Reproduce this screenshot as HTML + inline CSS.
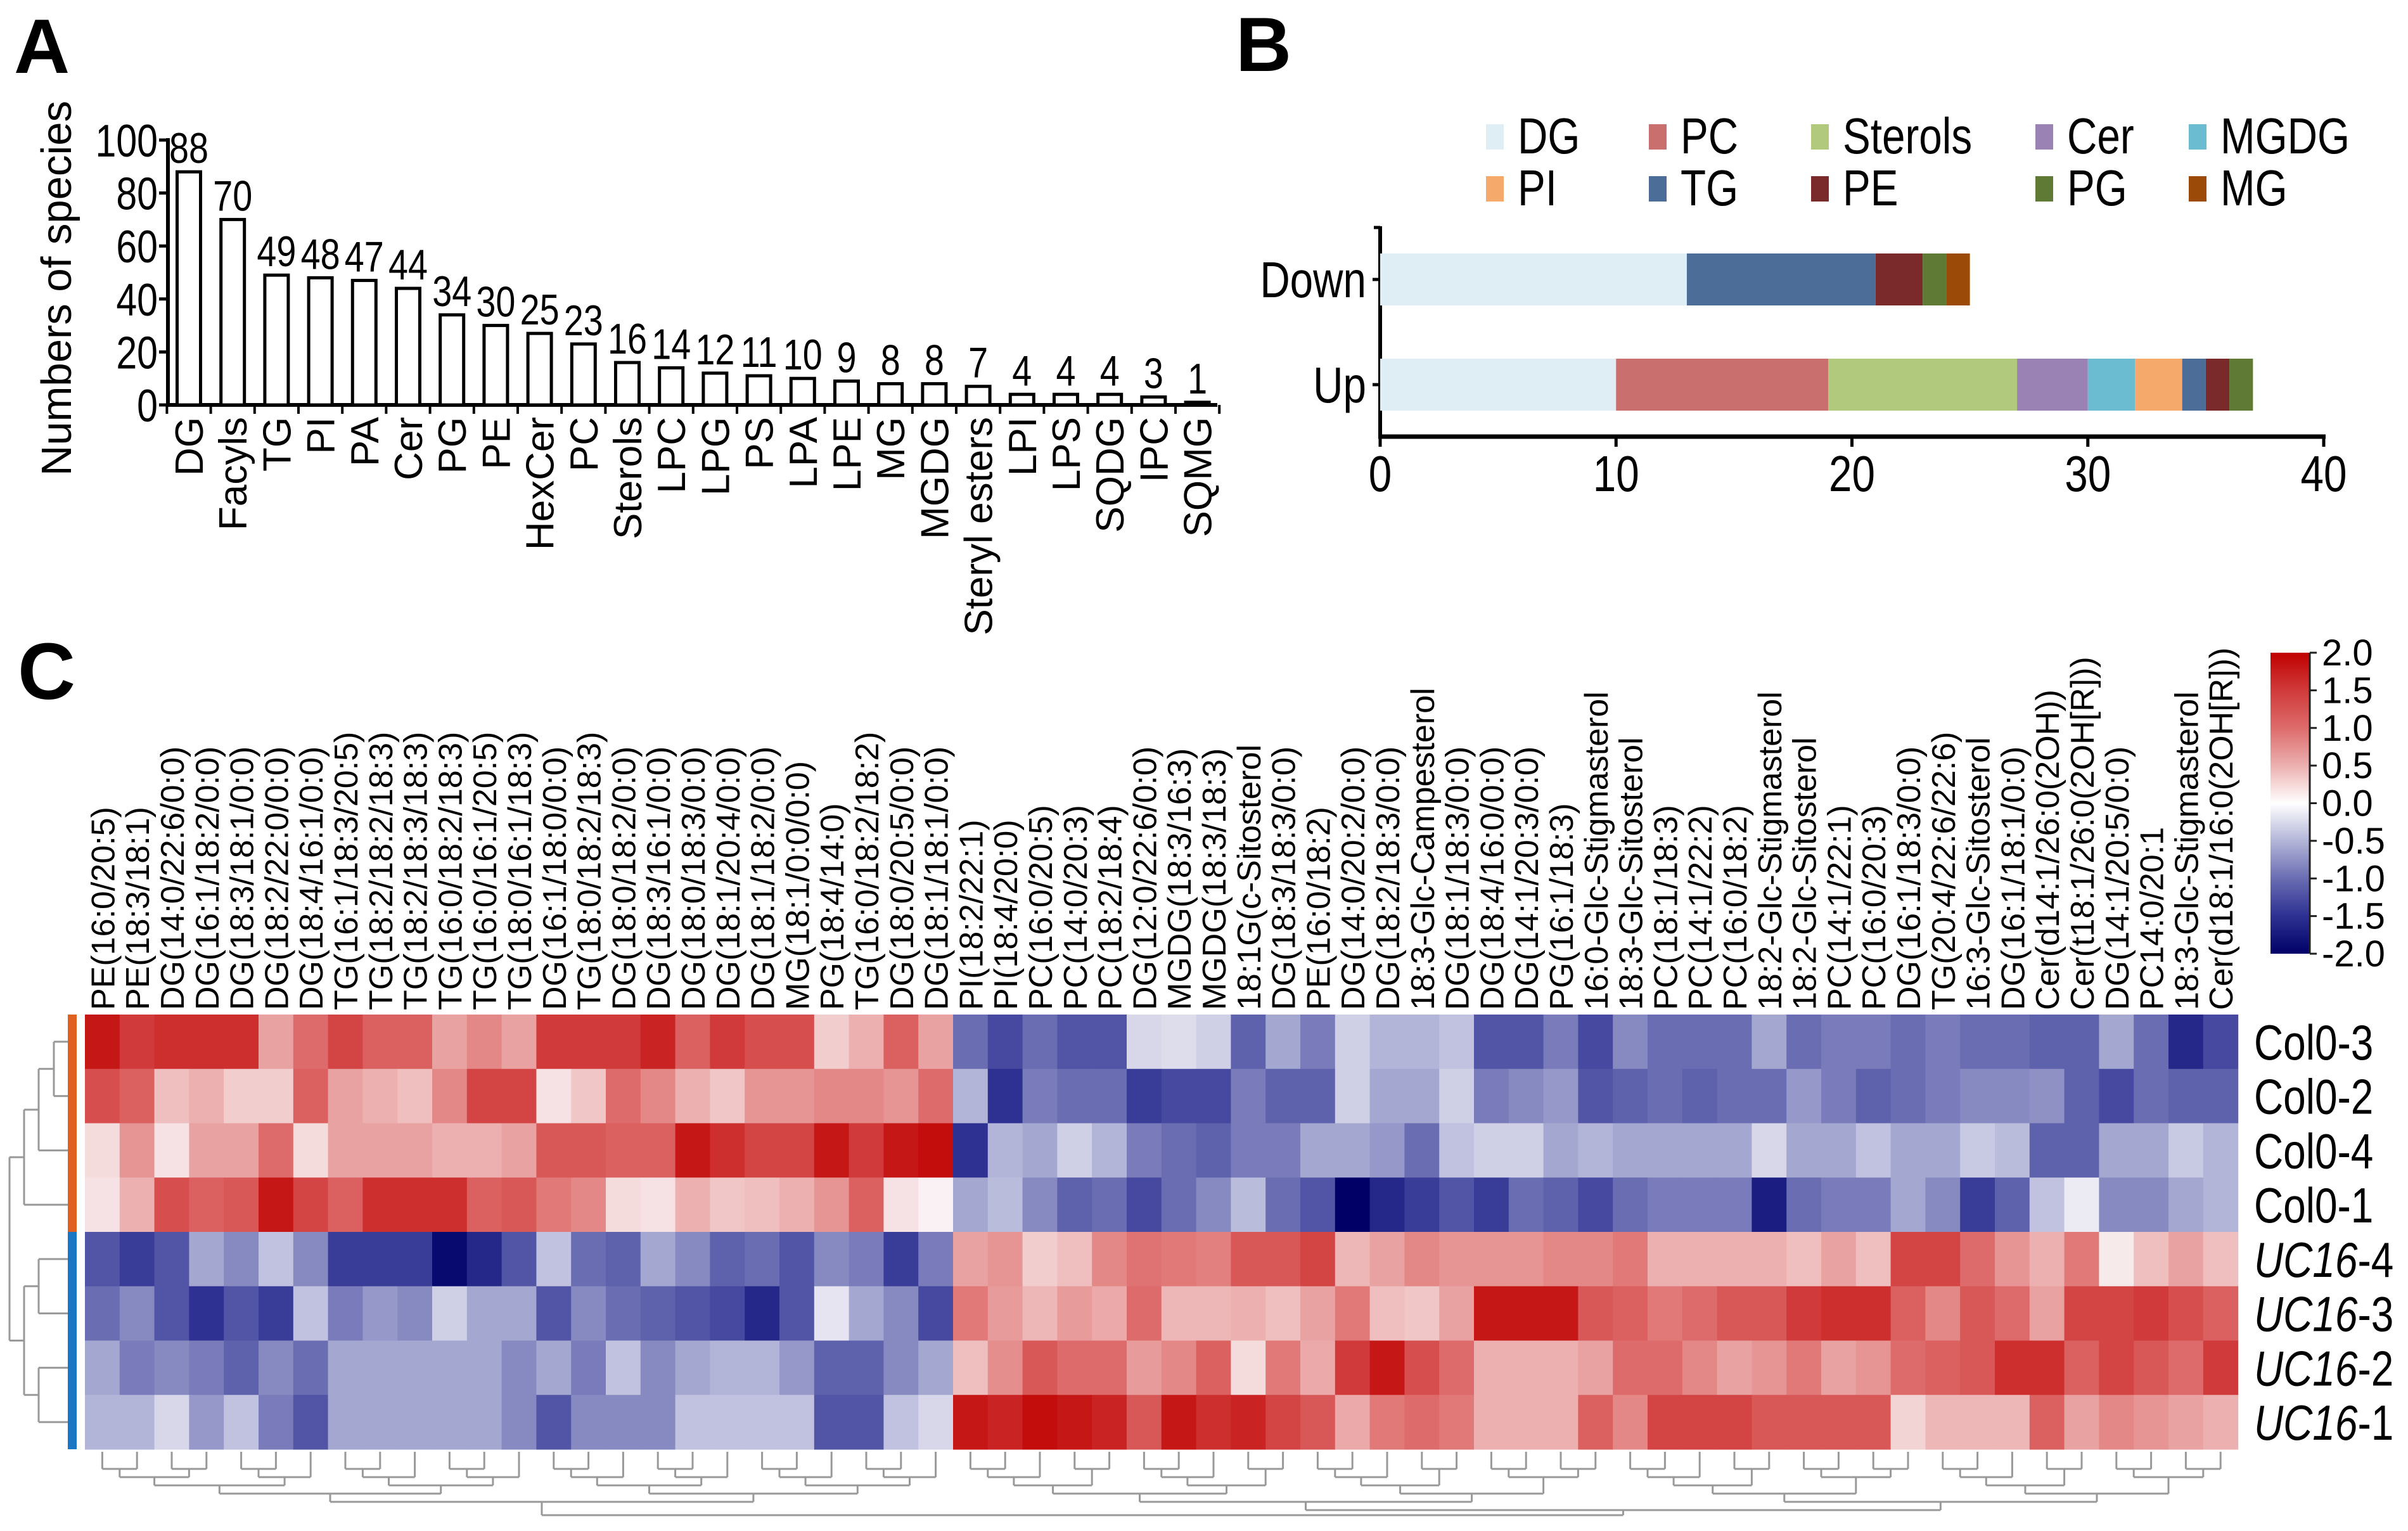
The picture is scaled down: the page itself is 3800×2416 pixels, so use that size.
<!DOCTYPE html>
<html><head><meta charset="utf-8"><style>
html,body{margin:0;padding:0;background:#fff;}
svg{display:block;font-family:"Liberation Sans",Arial,sans-serif;}
</style></head><body>
<svg id="fig" width="3800" height="2416" viewBox="0 0 3800 2416" xmlns="http://www.w3.org/2000/svg">
<defs>
<linearGradient id="cbgrad" x1="0" y1="1" x2="0" y2="0">
<stop offset="0" stop-color="#000066"/><stop offset="0.125" stop-color="#2e3192"/><stop offset="0.25" stop-color="#6a6db2"/><stop offset="0.375" stop-color="#b3b5d8"/><stop offset="0.5" stop-color="#ffffff"/><stop offset="0.625" stop-color="#ecb0b0"/><stop offset="0.75" stop-color="#de6b6b"/><stop offset="0.875" stop-color="#d03a3a"/><stop offset="1" stop-color="#c00000"/>
</linearGradient>
</defs>
<text x="22" y="115" font-size="122" font-weight="bold">A</text>
<text x="1950" y="112" font-size="122" font-weight="bold">B</text>
<text x="28" y="1103" font-size="126" font-weight="bold">C</text>
<g id="pa"></g>
<g id="pb"></g>
<g id="pc"></g>
</svg>
<script>
// ---------- Panel A data ----------
const aCategories = ["DG","Facyls","TG","PI","PA","Cer","PG","PE","HexCer","PC","Sterols","LPC","LPG","PS","LPA","LPE","MG","MGDG","Steryl esters","LPI","LPS","SQDG","IPC","SQMG"];
const aValues = [88,70,49,48,47,44,34,30,27,23,16,14,12,11,10,9,8,8,7,4,4,4,3,1];
const aValueLabels = ["88","70","49","48","47","44","34","30","25","23","16","14","12","11","10","9","8","8","7","4","4","4","3","1"];
const aTicks = [0,20,40,60,80,100];

// ---------- Panel B data ----------
const bCategories = ["Down","Up"];
const bSeriesNames = ["DG","PC","Sterols","Cer","MGDG","PI","TG","PE","PG","MG"];
const bSeriesColors = ["#dfeef5","#c9706e","#b0c97c","#9a82b5","#6bbcd0","#f5a96a","#4c6d98","#7a2a2a","#5e7a35","#9c4a08"];
const bDown = [13,0,0,0,0,0,8,2,1,1];
const bUp = [10,9,8,3,2,2,1,1,1,0];
const bOrderDown = ["DG","TG","PE","PG","MG"];
const bOrderUp = ["DG","PC","Sterols","Cer","MGDG","PI","TG","PE","PG"];
const bTicks = [0,10,20,30,40];
const bLegendRow1 = ["DG","PC","Sterols","Cer","MGDG"];
const bLegendRow2 = ["PI","TG","PE","PG","MG"];

// ---------- Panel C data ----------
const cColumns = ["PE(16:0/20:5)","PE(18:3/18:1)","DG(14:0/22:6/0:0)","DG(16:1/18:2/0:0)","DG(18:3/18:1/0:0)","DG(18:2/22:0/0:0)","DG(18:4/16:1/0:0)","TG(16:1/18:3/20:5)","TG(18:2/18:2/18:3)","TG(18:2/18:3/18:3)","TG(16:0/18:2/18:3)","TG(16:0/16:1/20:5)","TG(18:0/16:1/18:3)","DG(16:1/18:0/0:0)","TG(18:0/18:2/18:3)","DG(18:0/18:2/0:0)","DG(18:3/16:1/0:0)","DG(18:0/18:3/0:0)","DG(18:1/20:4/0:0)","DG(18:1/18:2/0:0)","MG(18:1/0:0/0:0)","PG(18:4/14:0)","TG(16:0/18:2/18:2)","DG(18:0/20:5/0:0)","DG(18:1/18:1/0:0)",
"PI(18:2/22:1)","PI(18:4/20:0)","PC(16:0/20:5)","PC(14:0/20:3)","PC(18:2/18:4)","DG(12:0/22:6/0:0)","MGDG(18:3/16:3)","MGDG(18:3/18:3)","18:1G(c-Sitosterol","DG(18:3/18:3/0:0)","PE(16:0/18:2)","DG(14:0/20:2/0:0)","DG(18:2/18:3/0:0)","18:3-Glc-Campesterol","DG(18:1/18:3/0:0)","DG(18:4/16:0/0:0)","DG(14:1/20:3/0:0)","PG(16:1/18:3)","16:0-Glc-Stigmasterol","18:3-Glc-Sitosterol","PC(18:1/18:3)","PC(14:1/22:2)","PC(16:0/18:2)","18:2-Glc-Stigmasterol","18:2-Glc-Sitosterol","PC(14:1/22:1)","PC(16:0/20:3)","DG(16:1/18:3/0:0)","TG(20:4/22:6/22:6)","16:3-Glc-Sitosterol","DG(16:1/18:1/0:0)","Cer(d14:1/26:0(2OH))","Cer(t18:1/26:0(2OH[R]))","DG(14:1/20:5/0:0)","PC14:0/20:1","18:3-Glc-Stigmasterol","Cer(d18:1/16:0(2OH[R]))"];
const cRowNames = ["Col0-3","Col0-2","Col0-4","Col0-1","UC16-4","UC16-3","UC16-2","UC16-1"];
const cRow1 = [1.8,1.5,1.6,1.6,1.6,0.6,1.0,1.4,1.1,1.1,0.6,0.8,0.6,1.5,1.5,1.5,1.7,1.1,1.5,1.3,1.3,0.3,0.5,1.1,0.6,-1.0,-1.3,-1.0,-1.2,-1.2,-0.25,-0.2,-0.3,-1.1,-0.6,-0.9,-0.3,-0.5,-0.5,-0.4,-1.2,-1.2,-0.9,-1.3,-0.8,-1.0,-1.0,-1.0,-0.6,-1.0,-0.9,-0.9,-1.0,-0.9,-1.0,-1.0,-1.1,-1.1,-0.6,-1.0,-1.6,-1.3];
const cRow2 = [1.3,1.1,0.4,0.5,0.3,0.3,1.1,0.6,0.5,0.4,0.8,1.4,1.4,0.15,0.35,1.0,0.8,0.5,0.35,0.7,0.7,0.8,0.8,0.7,1.0,-0.5,-1.5,-0.9,-1.0,-1.0,-1.4,-1.3,-1.3,-0.9,-1.1,-1.1,-0.3,-0.6,-0.6,-0.3,-0.9,-0.8,-0.7,-1.2,-1.1,-1.0,-1.1,-1.0,-1.0,-0.7,-0.9,-1.1,-1.0,-0.9,-0.8,-0.8,-0.75,-1.1,-1.3,-1.0,-1.1,-1.1];
const cRow3 = [0.2,0.7,0.15,0.6,0.6,1.0,0.2,0.6,0.6,0.6,0.5,0.5,0.6,1.2,1.2,1.1,1.1,1.8,1.6,1.4,1.4,1.8,1.5,1.8,1.9,-1.5,-0.5,-0.6,-0.3,-0.5,-0.9,-1.0,-1.1,-0.9,-0.9,-0.6,-0.6,-0.7,-1.0,-0.4,-0.3,-0.3,-0.6,-0.5,-0.6,-0.6,-0.6,-0.6,-0.25,-0.6,-0.6,-0.4,-0.6,-0.6,-0.35,-0.45,-1.1,-1.1,-0.6,-0.6,-0.35,-0.5];
const cRow4 = [0.15,0.5,1.3,1.1,1.2,1.8,1.4,1.1,1.6,1.6,1.6,1.1,1.2,0.9,0.8,0.2,0.15,0.5,0.35,0.4,0.5,0.7,1.1,0.15,0.05,-0.6,-0.45,-0.8,-1.1,-1.0,-1.3,-1.0,-0.8,-0.45,-1.0,-1.2,-2.0,-1.6,-1.4,-1.2,-1.4,-1.0,-1.1,-1.3,-1.0,-0.9,-0.9,-0.9,-1.7,-1.0,-0.9,-0.9,-0.6,-0.8,-1.4,-1.1,-0.4,-0.1,-0.8,-0.8,-0.6,-0.5];
const cRow5 = [-1.2,-1.4,-1.2,-0.6,-0.8,-0.4,-0.8,-1.4,-1.4,-1.4,-1.9,-1.6,-1.2,-0.4,-1.0,-1.1,-0.6,-0.8,-1.1,-1.0,-1.2,-0.8,-0.9,-1.4,-0.9,0.6,0.7,0.3,0.4,0.8,0.95,0.9,0.85,1.2,1.2,1.4,0.45,0.6,0.8,0.7,0.7,0.7,0.8,0.8,0.9,0.5,0.5,0.5,0.5,0.4,0.6,0.4,1.4,1.4,1.0,0.7,0.5,0.9,0.1,0.4,0.6,0.4];
const cRow6 = [-1.0,-0.8,-1.2,-1.5,-1.2,-1.4,-0.4,-0.9,-0.7,-0.8,-0.3,-0.6,-0.6,-1.2,-0.8,-1.0,-1.1,-1.2,-1.3,-1.6,-1.2,-0.15,-0.6,-0.8,-1.3,0.9,0.65,0.45,0.65,0.55,1.0,0.45,0.45,0.5,0.4,0.6,0.9,0.4,0.35,0.6,1.8,1.8,1.8,1.2,1.1,0.9,1.0,1.2,1.2,1.5,1.6,1.6,1.1,0.8,1.2,1.0,0.6,1.4,1.4,1.5,1.3,1.1];
const cRow7 = [-0.6,-0.9,-0.8,-0.9,-1.1,-0.8,-1.0,-0.6,-0.6,-0.6,-0.6,-0.6,-0.8,-0.6,-0.9,-0.4,-0.8,-0.6,-0.5,-0.5,-0.7,-1.1,-1.1,-0.8,-0.6,0.4,0.75,1.2,1.0,1.0,0.65,0.8,1.1,0.2,0.9,0.55,1.5,1.8,1.3,1.0,0.5,0.5,0.5,0.6,1.0,1.0,0.8,0.6,0.7,0.9,0.6,0.7,1.0,1.1,1.2,1.6,1.6,1.1,1.4,1.2,1.0,1.5];
const cRow8 = [-0.5,-0.5,-0.25,-0.7,-0.4,-0.9,-1.2,-0.6,-0.6,-0.6,-0.6,-0.6,-0.8,-1.2,-0.8,-0.8,-0.8,-0.4,-0.4,-0.4,-0.4,-1.2,-1.2,-0.4,-0.25,1.8,1.7,1.9,1.8,1.7,1.2,1.8,1.6,1.7,1.4,1.2,0.55,0.9,1.0,0.9,0.5,0.5,0.5,1.1,0.8,1.4,1.4,1.4,1.2,1.2,1.2,1.2,0.25,0.45,0.45,0.45,1.1,0.6,0.8,0.7,0.6,0.5];
const cMatrix = [cRow1,cRow2,cRow3,cRow4,cRow5,cRow6,cRow7,cRow8];
const cColorTicks = ["2.0","1.5","1.0","0.5","0.0","-0.5","-1.0","-1.5","-2.0"];
const cColorTickValues = [2,1.5,1,0.5,0,-0.5,-1,-1.5,-2];

const NS = "http://www.w3.org/2000/svg";
function mk(tag, attrs, parent){ const e=document.createElementNS(NS,tag); for(const k in attrs) e.setAttribute(k,attrs[k]); parent.appendChild(e); return e; }
function narrow(parent,x,y,str,size,anchor,extra){
  const t=mk("text",{transform:`translate(${x},${y}) scale(0.82,1)`,"font-size":size,"text-anchor":anchor||"start"},parent);
  t.textContent=str; if(extra) for(const k in extra) t.setAttribute(k,extra[k]); return t;
}

// ================= Panel A =================
(function(){
  const g=document.getElementById("pa");
  const x0=265, x1=1921, yBase=639, yTop=221, step=69.2, first=298, bw=37;
  const xA=i=>first+i*step;
  const yA=v=>yBase-(v/100)*(yBase-yTop);
  const yAxis=mk("line",{x1:x0,y1:yTop-3,x2:x0,y2:yBase+3,stroke:"#000","stroke-width":6},g);
  
  
  const xAxis=mk("line",{x1:x0-3,y1:yBase,x2:x1,y2:yBase,stroke:"#000","stroke-width":6},g);
  
  
  aTicks.forEach(t=>{
    const tk=mk("line",{x1:x0-14,y1:yA(t),x2:x0,y2:yA(t),stroke:"#000","stroke-width":5},g);
    
    
    const lb=narrow(g,x0-16,yA(t)+26,String(t),72,"end");
    
    
  });
  const yt=mk("text",{transform:`translate(112,455) rotate(-90)`,"font-size":67,"text-anchor":"middle"},g);
  yt.textContent="Numbers of species";
  
  
  for(let i=0;i<=aCategories.length;i++){
    const xx=xA(i)-step/2;
    const tk=mk("line",{x1:xx,y1:yBase,x2:xx,y2:yBase+14,stroke:"#000","stroke-width":4},g);
    
    
  }
  aCategories.forEach((c,i)=>{
    const b=mk("rect",{x:xA(i)-bw/2,y:yA(aValues[i]),width:bw,height:yBase-yA(aValues[i]),fill:"#fff",stroke:"#000","stroke-width":5},g);
    
    
    const v=narrow(g,xA(i),yA(aValues[i])-14,aValueLabels[i],68,"middle");
    
    
    const t=mk("text",{transform:`translate(${xA(i)+22},658) rotate(-90)`,"font-size":62,"text-anchor":"end"},g);
    t.textContent=c;
    
    
  });
})();

// ================= Panel B =================
(function(){
  const g=document.getElementById("pb");
  const x0=2178, x1=3667, yAx=689, yTop=357;
  const xB=v=>x0+v*(x1-x0)/40;
  const rowsY={Down:[400,482],Up:[566,648]};
  const color=n=>bSeriesColors[bSeriesNames.indexOf(n)];
  const yax=mk("line",{x1:x0,y1:yTop,x2:x0,y2:yAx,stroke:"#000","stroke-width":6},g);
  
  
  const xax=mk("line",{x1:x0-3,y1:yAx,x2:x1+3,y2:yAx,stroke:"#000","stroke-width":7},g);
  
  
  bTicks.forEach(t=>{
    const tk=mk("line",{x1:xB(t),y1:yAx,x2:xB(t),y2:yAx+16,stroke:"#000","stroke-width":5},g);
    
    
    const lb=narrow(g,xB(t),775,String(t),80,"middle");
    
    
  });
  const drawRow=(name,vals,order)=>{
    const [ya,yb]=rowsY[name];
    let acc=0;
    order.forEach(s=>{
      const v=vals[bSeriesNames.indexOf(s)];
      const r=mk("rect",{x:xB(acc),y:ya,width:xB(acc+v)-xB(acc),height:yb-ya,fill:color(s)},g);
      
      
      acc+=v;
    });
    const tk=mk("line",{x1:x0-12,y1:(ya+yb)/2,x2:x0,y2:(ya+yb)/2,stroke:"#000","stroke-width":5},g);
    
    
    const lb=narrow(g,x0-22,(ya+yb)/2+28,name,80,"end");
    
    
  };
  drawRow("Down",bDown,bOrderDown);
  drawRow("Up",bUp,bOrderUp);
  const tkTop=mk("line",{x1:x0-10,y1:yTop+2,x2:x0,y2:yTop+2,stroke:"#000","stroke-width":5},g);
  
  
  const swX=[2345,2602,2858,3212,3454];
  [[bLegendRow1,214],[bLegendRow2,296]].forEach(([row,cy])=>{
    row.forEach((n,i)=>{
      const sw=mk("rect",{x:swX[i],y:cy-18,width:28,height:40,fill:color(n)},g);
      
      
      const t=narrow(g,swX[i]+50,cy+28,n,80,"start");
      
      
    });
  });
})();

// ================= Panel C =================
(function(){
  const g=document.getElementById("pc");
  const hx=134, hy=1601, cw=54.8, rh=85.75;
  const xC=j=>hx+j*cw;
  const yC=i=>hy+i*rh;
  const stops=[[-2,[0,0,102]],[-1.5,[46,49,146]],[-1,[106,109,178]],[-0.5,[179,181,216]],[0,[250,248,250]],[0.5,[236,176,176]],[1,[222,107,107]],[1.5,[208,58,58]],[2,[192,0,0]]];
  function cmap(v){
    v=Math.max(-2,Math.min(2,v));
    for(let k=0;k<stops.length-1;k++){
      const [a,ca]=stops[k],[b,cb]=stops[k+1];
      if(v>=a&&v<=b){const t=(v-a)/(b-a);return `rgb(${ca.map((c,m)=>Math.round(c+(cb[m]-c)*t)).join(",")})`;}
    }
    return "rgb(192,0,0)";
  }
  cMatrix.forEach((row,i)=>{
    row.forEach((v,j)=>{
      const r=mk("rect",{x:xC(j),y:yC(i),width:cw+0.6,height:rh+0.6,fill:cmap(v)},g);
      
      
    });
    const rn=cRowNames[i];
    const lt=mk("text",{transform:`translate(3557,${yC(i)+rh/2+28}) scale(0.82,1)`,"font-size":78},g);
    if(rn.startsWith("UC16")){
      const it=mk("tspan",{"font-style":"italic"},lt); it.textContent="UC16";
      const rest=mk("tspan",{},lt); rest.textContent=rn.slice(4);
    } else lt.textContent=rn;
    
    
  });
  cColumns.forEach((c,j)=>{
    const t=mk("text",{transform:`translate(${xC(j)+cw/2+19},1594) rotate(-90)`,"font-size":52},g);
    t.textContent=c;
    
    
  });
  const sb1=mk("rect",{x:107,y:hy,width:14,height:4*rh,fill:"#e0611f"},g);
  
  
  const sb2=mk("rect",{x:107,y:hy+4*rh,width:14,height:4*rh,fill:"#1777c4"},g);
  
  
  const dg=mk("g",{stroke:"#999","stroke-width":3,fill:"none"},g);
  
  
  const rc=i=>yC(i)+rh/2;
  const L=(x1,y1,x2,y2)=>mk("line",{x1,y1,x2,y2},dg);
  const link=(xa,ya,xb,yb,xj)=>{L(xa,ya,xj,ya);L(xb,yb,xj,yb);L(xj,ya,xj,yb);};
  link(107,rc(0),107,rc(1),85);
  link(85,(rc(0)+rc(1))/2,107,rc(2),61);
  link(61,((rc(0)+rc(1))/2+rc(2))/2,107,rc(3),38);
  link(107,rc(4),107,rc(5),61);
  link(107,rc(6),107,rc(7),61);
  link(61,(rc(4)+rc(5))/2,61,(rc(6)+rc(7))/2,38);
  const yA2=(((rc(0)+rc(1))/2+rc(2))/2+rc(3))/2, yB2=((rc(4)+rc(5))/2+(rc(6)+rc(7))/2)/2;
  link(38,yA2,38,yB2,15);
  const cg=mk("g",{stroke:"#999","stroke-width":3,fill:"none"},g);
  
  
  const top=hy+8*rh+4;
  function build(lo,hi){
    if(lo===hi) return {x:xC(lo)+cw/2,y:top};
    const mid=Math.floor((lo+hi)/2);
    const a=build(lo,mid), b=build(mid+1,hi);
    const n=hi-lo+1;
    const y=top+14+13*Math.ceil(Math.log2(n));
    mk("line",{x1:a.x,y1:a.y,x2:a.x,y2:y},cg);
    mk("line",{x1:b.x,y1:b.y,x2:b.x,y2:y},cg);
    mk("line",{x1:a.x,y1:y,x2:b.x,y2:y},cg);
    return {x:(a.x+b.x)/2,y};
  }
  const la=build(0,24), rb=build(25,61);
  const ry=top+100;
  mk("line",{x1:la.x,y1:la.y,x2:la.x,y2:ry},cg);
  mk("line",{x1:rb.x,y1:rb.y,x2:rb.x,y2:ry},cg);
  mk("line",{x1:la.x,y1:ry,x2:rb.x,y2:ry},cg);
  const cbx=3583, cby=1030, cbh=475;
  const cb=mk("rect",{x:cbx,y:cby,width:62,height:cbh,fill:"url(#cbgrad)"},g);
  
  
  mk("line",{x1:cbx+62,y1:cby,x2:cbx+62,y2:cby+cbh,stroke:"#222","stroke-width":3},g);
  const yCb=v=>cby+(2-v)/4*cbh;
  cColorTickValues.forEach((v,k)=>{
    mk("line",{x1:cbx+62,y1:yCb(v),x2:cbx+73,y2:yCb(v),stroke:"#222","stroke-width":3},g);
    const t=mk("text",{x:3664,y:yCb(v)+20,"font-size":58},g);
    t.textContent=cColorTicks[k];
    
    
  });
})();
</script>
</body></html>
